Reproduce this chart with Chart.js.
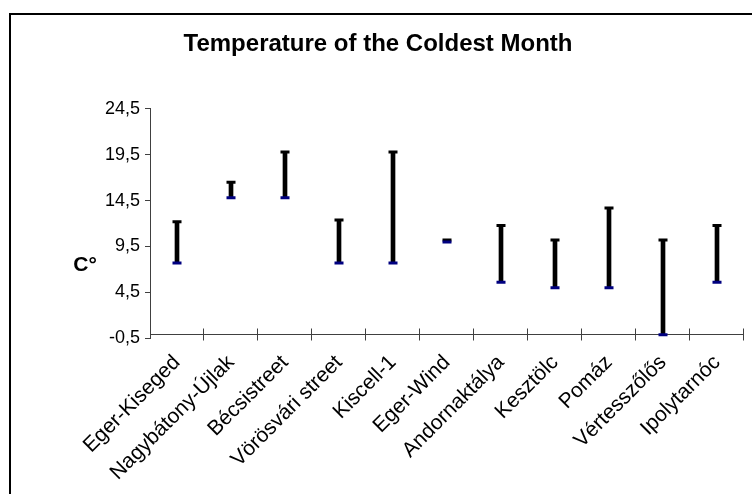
<!DOCTYPE html>
<html>
<head>
<meta charset="utf-8">
<script src="https://cdn.jsdelivr.net/npm/chart.js@4"></script>
<style>
  html, body { margin: 0; padding: 0; background: #fff; }
  #wrap { width: 752px; height: 494px; }
</style>
</head>
<body>
<div id="wrap"><canvas id="c" width="752" height="494"></canvas></div>
<script>
const chartTitle = 'Temperature of the Coldest Month';
const yAxisTitle = 'C°';
const categories = ['Eger-Kiseged', 'Nagybátony-Újlak', 'Bécsistreet', 'Vörösvári street', 'Kiscell-1', 'Eger-Wind', 'Andornaktálya', 'Kesztölc', 'Pomáz', 'Vértesszőlős', 'Ipolytarnóc'];
const highs = [12.2, 16.5, 19.8, 12.4, 19.8, 10.2, 11.8, 10.2, 13.7, 10.2, 11.8];
const lows  = [7.7, 14.8, 14.8, 7.7, 7.7, 10.0, 5.6, 5.0, 5.0, -0.1, 5.6];
const yTicks = [-0.5, 4.5, 9.5, 14.5, 19.5, 24.5];

const FONT = "'Liberation Sans', Arial, sans-serif";
Chart.defaults.font.family = FONT;
Chart.defaults.color = '#000';

const framePlugin = {
  id: 'frame',
  beforeDraw(chart) {
    const ctx = chart.ctx;
    ctx.save();
    ctx.strokeStyle = '#000';
    ctx.lineWidth = 2;
    ctx.beginPath();
    ctx.moveTo(10, 500);
    ctx.lineTo(10, 14);
    ctx.lineTo(760, 14);
    ctx.stroke();
    ctx.restore();
  }
};

const axisPlugin = {
  id: 'zeroAxis',
  beforeDatasetsDraw(chart) {
    const ctx = chart.ctx;
    const ys = chart.scales.y;
    const y0 = Math.round(ys.getPixelForValue(0)) + 0.5;
    const left = chart.chartArea.left, right = chart.chartArea.right;
    const w = (right - left) / categories.length;
    ctx.save();
    ctx.strokeStyle = '#404040';
    ctx.lineWidth = 1;
    ctx.beginPath();
    ctx.moveTo(left, y0);
    ctx.lineTo(right, y0);
    for (let i = 1; i <= categories.length; i++) {
      const x = Math.round(left + i * w) - 0.5;
      ctx.moveTo(x, y0 - 6);
      ctx.lineTo(x, y0 + 6);
    }
    ctx.stroke();
    // y-axis title, horizontal
    ctx.fillStyle = '#000';
    ctx.font = 'bold 21px ' + FONT;
    ctx.textAlign = 'center';
    ctx.textBaseline = 'middle';
    ctx.fillText(yAxisTitle, 85, 265);
    ctx.restore();
  }
};

new Chart(document.getElementById('c'), {
  type: 'bar',
  data: {
    labels: categories,
    datasets: [
      {
        label: 'range',
        data: categories.map((_, i) => [lows[i], highs[i]]),
        backgroundColor: '#000',
        barThickness: 4,
        order: 3
      },
      {
        type: 'line',
        label: 'high',
        data: highs,
        showLine: false,
        pointStyle: 'line',
        pointRadius: 4.5,
        pointBorderWidth: 3,
        pointBorderColor: '#000',
        pointBackgroundColor: '#000',
        order: 1
      },
      {
        type: 'line',
        label: 'low',
        data: lows,
        showLine: false,
        pointStyle: 'line',
        pointRadius: 4.5,
        pointBorderWidth: 3,
        pointBorderColor: '#000080',
        pointBackgroundColor: '#000080',
        order: 0
      }
    ]
  },
  options: {
    responsive: false,
    animation: false,
    events: [],
    layout: { padding: { left: 12, right: 8, top: 0, bottom: 0 } },
    plugins: {
      legend: { display: false },
      tooltip: { enabled: false },
      title: {
        display: true,
        text: chartTitle,
        color: '#000',
        font: { size: 24, weight: 'bold', family: FONT },
        padding: { top: 30, bottom: 50 }
      }
    },
    scales: {
      x: {
        offset: true,
        border: { display: false },
        grid: { display: true, drawOnChartArea: false, drawTicks: false, color: 'rgba(0,0,0,0)' },
        ticks: { minRotation: 45, maxRotation: 45, padding: 12, font: { size: 21 }, color: '#000', autoSkip: false },
        afterFit(scale) { scale.height = 155.7; }
      },
      y: {
        min: -0.5,
        max: 24.5,
        border: { display: true, color: '#404040', width: 1 },
        grid: { display: true, drawOnChartArea: false, drawTicks: true, tickLength: 5, color: '#404040' },
        ticks: {
          padding: 5,
          font: { size: 18 },
          color: '#000',
          callback: (v) => v.toFixed(1).replace('.', ',')
        },
        afterBuildTicks(scale) { scale.ticks = yTicks.map(v => ({ value: v })); },
        afterFit(scale) { scale.width = 138; }
      }
    }
  },
  plugins: [framePlugin, axisPlugin]
});
</script>
</body>
</html>
